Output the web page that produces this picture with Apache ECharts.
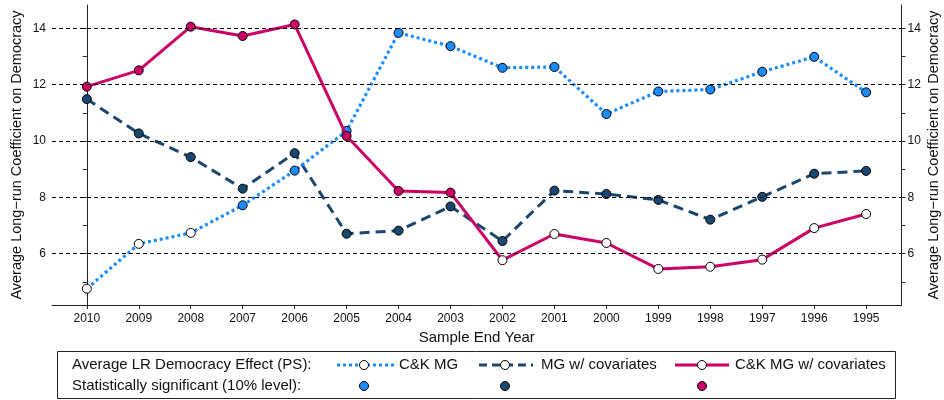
<!DOCTYPE html>
<html>
<head>
<meta charset="utf-8">
<script src="https://cdn.jsdelivr.net/npm/echarts@6/dist/echarts.min.js"></script>
<style>
html,body{margin:0;padding:0;background:#fff;}
#chart{width:944px;height:400px;}
</style>
</head>
<body>
<div id="chart"></div>
<script>
// ---- data ----
var years = ['2010','2009','2008','2007','2006','2005','2004','2003','2002','2001','2000','1999','1998','1997','1996','1995'];
var ckMG =        [4.76, 6.35, 6.74, 7.72, 8.95, 10.36, 13.84, 13.37, 12.60, 12.63, 10.96, 11.76, 11.83, 12.46, 12.99, 11.73];
var ckMGsig =     [0, 0, 0, 1, 1, 1, 1, 1, 1, 1, 1, 1, 1, 1, 1, 1];
var mgCov =       [11.49, 10.27, 9.43, 8.31, 9.57, 6.71, 6.82, 7.68, 6.45, 8.24, 8.12, 7.91, 7.21, 8.02, 8.84, 8.94];
var mgCovSig =    [1, 1, 1, 1, 1, 1, 1, 1, 1, 1, 1, 1, 1, 1, 1, 1];
var ckMGCov =     [11.93, 12.51, 14.06, 13.73, 14.14, 10.18, 8.23, 8.17, 5.77, 6.70, 6.38, 5.46, 5.54, 5.79, 6.91, 7.41];
var ckMGCovSig =  [1, 1, 1, 1, 1, 1, 1, 1, 0, 0, 0, 0, 0, 0, 0, 0];
var yLabelTicks = [6, 8, 10, 12, 14];
var yMinorTicks = [5, 6, 7, 8, 9, 10, 11, 12, 13, 14];
var seriesNames = ['C&K MG', 'MG w/ covariates', 'C&K MG w/ covariates'];
var legendTitle1 = 'Average LR Democracy Effect (PS):';
var legendTitle2 = 'Statistically significant (10% level):';

// ---- styling ----
var FONT = "'Liberation Sans', Arial, Helvetica, sans-serif";
var C_LIGHT = '#1a8cff';
var C_DARK = '#1a476f';
var C_RED = '#cc0066';

function buildData(vals, sig, col) {
  return vals.map(function (v, i) {
    return {
      value: [i, v],
      itemStyle: { color: sig[i] ? col : '#ffffff', borderColor: '#000', borderWidth: 1 }
    };
  });
}
var xIdx = years.map(function (y, i) { return i; });

var chart = echarts.init(document.getElementById('chart'), null, { renderer: 'canvas' });

function yAxisDef(pos) {
  return {
    type: 'value',
    position: pos,
    min: 4.18,
    max: 14.83,
    name: 'Average Long\u2212run Coefficient on Democracy',
    nameLocation: 'middle',
    nameRotate: 90,
    nameGap: pos === 'left' ? 28 : 25,
    nameMoveOverlap: false,
    nameTextStyle: { fontFamily: FONT, fontSize: 14.5, color: '#111' },
    axisLine: { show: true, lineStyle: { color: '#222', width: 1 } },
    axisTick: { show: true, length: 4, lineStyle: { color: '#222' }, customValues: yMinorTicks },
    axisLabel: { customValues: yLabelTicks, fontFamily: FONT, fontSize: 12, color: '#111', margin: 6 },
    splitLine: { show: false }
  };
}

var option = {
  animation: false,
  backgroundColor: '#ffffff',
  grid: { left: 52, right: 42.5, top: 5, bottom: 95, containLabel: false, outerBoundsMode: 'none' },
  xAxis: {
    type: 'value',
    min: -0.67,
    max: 15.68,
    name: 'Sample End Year',
    nameLocation: 'middle',
    nameGap: 22,
    nameTextStyle: { fontFamily: FONT, fontSize: 15, color: '#111' },
    axisLine: { show: true, onZero: false, lineStyle: { color: '#222', width: 1 } },
    axisTick: { show: true, length: 4, lineStyle: { color: '#222' }, customValues: xIdx },
    axisLabel: {
      customValues: xIdx, fontFamily: FONT, fontSize: 12, color: '#111', margin: 8,
      formatter: function (v) { return years[Math.round(v)]; }
    },
    splitLine: { show: false }
  },
  yAxis: [yAxisDef('left'), yAxisDef('right')],
  series: [
    {
      type: 'line', data: [], z: 0, silent: true,
      markLine: {
        silent: true, symbol: 'none', label: { show: false },
        lineStyle: { color: '#000', width: 1, type: [4, 3] },
        data: yLabelTicks.map(function (t) { return { yAxis: t }; })
      }
    },
    {
      name: seriesNames[1], type: 'line', z: 2,
      data: buildData(mgCov, mgCovSig, C_DARK),
      symbol: 'circle', symbolSize: 9,
      lineStyle: { color: C_DARK, width: 3, type: [10, 6] }
    },
    {
      name: seriesNames[0], type: 'line', z: 3,
      data: buildData(ckMG, ckMGsig, C_LIGHT),
      symbol: 'circle', symbolSize: 9,
      lineStyle: { color: C_LIGHT, width: 3.2, type: [3, 3] }
    },
    {
      name: seriesNames[2], type: 'line', z: 4,
      data: buildData(ckMGCov, ckMGCovSig, C_RED),
      symbol: 'circle', symbolSize: 9,
      lineStyle: { color: C_RED, width: 3, type: 'solid' }
    }
  ],
  graphic: [
    { type: 'rect', shape: { x: 57.5, y: 351.5, width: 838, height: 47 }, style: { fill: '#fff', stroke: '#222', lineWidth: 1 } },
    { type: 'text', x: 72, y: 365, style: { text: legendTitle1, font: '15px ' + FONT, fill: '#111', textVerticalAlign: 'middle' } },
    { type: 'text', x: 72, y: 386, style: { text: legendTitle2, font: '15px ' + FONT, fill: '#111', textVerticalAlign: 'middle' } },
    // C&K MG sample
    { type: 'line', shape: { x1: 337, y1: 365, x2: 395, y2: 365 }, style: { stroke: C_LIGHT, lineWidth: 3, lineDash: [3, 3] } },
    { type: 'circle', shape: { cx: 364, cy: 365, r: 4.5 }, style: { fill: '#fff', stroke: '#000', lineWidth: 1 } },
    { type: 'text', x: 399, y: 365, style: { text: seriesNames[0], font: '15px ' + FONT, fill: '#111', textVerticalAlign: 'middle' } },
    { type: 'circle', shape: { cx: 364, cy: 386, r: 4.5 }, style: { fill: C_LIGHT, stroke: '#000', lineWidth: 1 } },
    // MG w/ covariates sample
    { type: 'line', shape: { x1: 479, y1: 365, x2: 533, y2: 365 }, style: { stroke: C_DARK, lineWidth: 3, lineDash: [8, 5] } },
    { type: 'circle', shape: { cx: 505, cy: 365, r: 4.5 }, style: { fill: '#fff', stroke: '#000', lineWidth: 1 } },
    { type: 'text', x: 541, y: 365, style: { text: seriesNames[1], font: '15px ' + FONT, fill: '#111', textVerticalAlign: 'middle' } },
    { type: 'circle', shape: { cx: 505, cy: 386, r: 4.5 }, style: { fill: C_DARK, stroke: '#000', lineWidth: 1 } },
    // C&K MG w/ covariates sample
    { type: 'line', shape: { x1: 675, y1: 365, x2: 729, y2: 365 }, style: { stroke: C_RED, lineWidth: 3 } },
    { type: 'circle', shape: { cx: 702, cy: 365, r: 4.5 }, style: { fill: '#fff', stroke: '#000', lineWidth: 1 } },
    { type: 'text', x: 735, y: 365, style: { text: seriesNames[2], font: '15px ' + FONT, fill: '#111', textVerticalAlign: 'middle' } },
    { type: 'circle', shape: { cx: 702, cy: 386, r: 4.5 }, style: { fill: C_RED, stroke: '#000', lineWidth: 1 } }
  ]
};
chart.setOption(option);
</script>
</body>
</html>
